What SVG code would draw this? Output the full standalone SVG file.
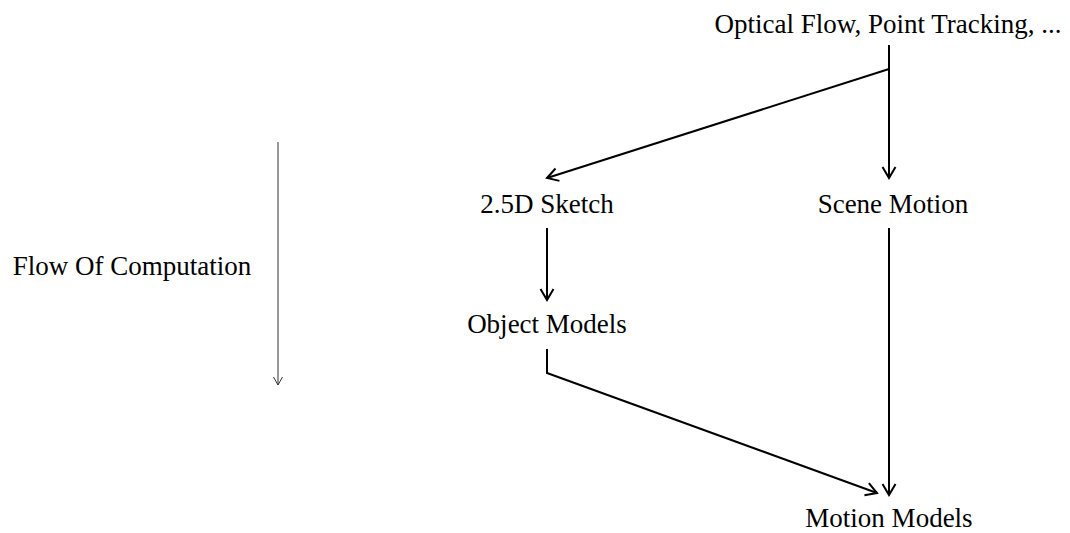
<svg xmlns="http://www.w3.org/2000/svg" width="1070" height="533" viewBox="0 0 1070 533">
<style>
text{font-family:"Liberation Serif","Times New Roman",serif;font-size:27px;fill:#000;text-anchor:middle}
.c{fill:none;stroke:#000;stroke-width:2}
.f{fill:none;stroke:#333;stroke-width:1}
</style>
<defs>
<marker id="a" markerUnits="userSpaceOnUse" markerWidth="16" markerHeight="16" viewBox="0 0 16 16" refX="14" refY="8" orient="auto">
<path d="M3,1.5 L14,8 L3,14.5" fill="none" stroke="#000" stroke-width="2"/>
</marker>
<marker id="t" markerUnits="userSpaceOnUse" markerWidth="12" markerHeight="12" viewBox="0 0 12 12" refX="11" refY="6" orient="auto">
<path d="M3,1.5 L11,6 L3,10.5" fill="none" stroke="#333" stroke-width="1"/>
</marker>
</defs>
<g id="optical"><text x="888" y="33">Optical Flow, Point Tracking, ...</text></g>
<g id="sketch"><text x="547" y="213">2.5D Sketch</text></g>
<g id="scene"><text x="893" y="213">Scene Motion</text></g>
<g id="object"><text x="547" y="333">Object Models</text></g>
<g id="motion"><text x="889" y="527">Motion Models</text></g>
<g id="flow"><text x="132" y="275">Flow Of Computation</text></g>
<g id="connectors">
<path class="c" d="M889,45 L889,178" marker-end="url(#a)"/>
<path class="c" d="M889,69 L547,178" marker-end="url(#a)"/>
<path class="c" d="M547,228 L547,300" marker-end="url(#a)"/>
<path class="c" d="M547,349 L547,373 L877,493" marker-end="url(#a)"/>
<path class="c" d="M889,228 L889,495" marker-end="url(#a)"/>
<path class="f" d="M278,142 L278,385" marker-end="url(#t)"/>
</g>
</svg>
